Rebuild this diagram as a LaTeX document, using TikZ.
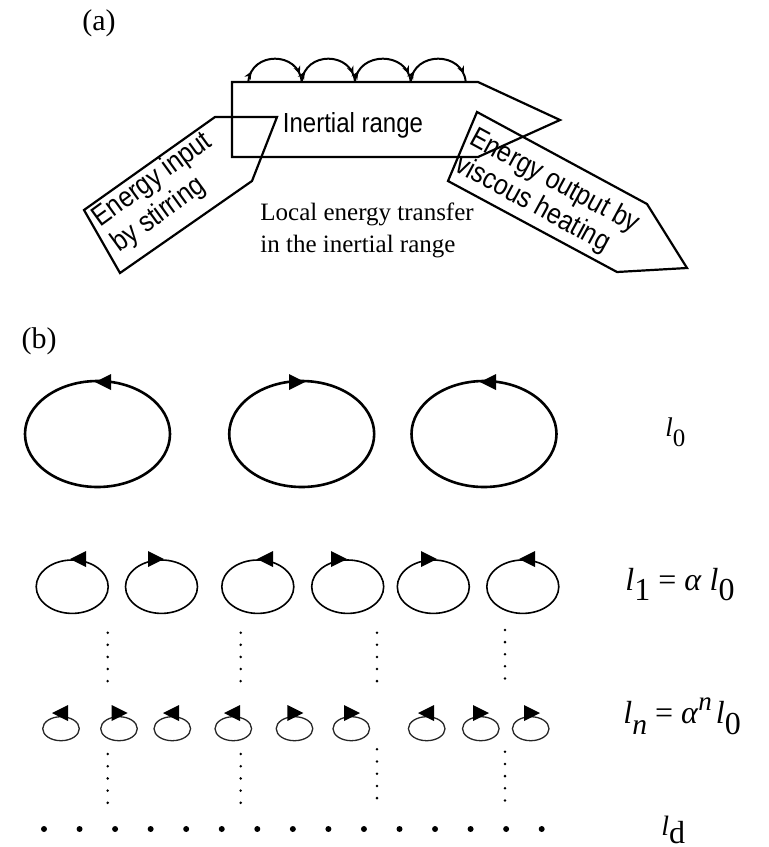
\documentclass[tikz,border=0pt]{standalone}
\usepackage{fontspec}
\setmainfont{Liberation Serif}
\newfontfamily\sansf[FakeStretch=0.87]{Liberation Sans}
\usetikzlibrary{arrows.meta,decorations.markings}
\newcommand\eddyL[2]{\fill (#1,#2) -- ++(16,-8) -- ++(0,16) -- cycle;}
\newcommand\eddyR[2]{\fill (#1,#2) -- ++(-16,-8) -- ++(0,16) -- cycle;}
\begin{document}
\begin{tikzpicture}[x=0.5pt,y=-0.5pt,
  shapeline/.style={line width=1.1pt,line join=miter},
  hop/.style={line width=1pt,postaction={decorate},
    decoration={markings,
      mark=at position 0.14 with {\arrow{Stealth[length=4pt,width=3.5pt]}},
      mark=at position 0.9 with {\arrow{Stealth[length=4pt,width=3.5pt]}}}},
  eddyA/.style={line width=1.3pt},
  eddyB/.style={line width=0.8pt},
  eddyC/.style={line width=0.65pt,draw=black!85},
  sanstext/.style={font=\sansf\fontsize{14.3}{16}\selectfont,inner sep=0pt},
  sertext/.style={font=\fontsize{12.5}{15}\selectfont,inner sep=0pt},
  paneltext/.style={font=\fontsize{15}{18}\selectfont,inner sep=0pt,anchor=base},
  scaletext/.style={font=\fontsize{16}{19}\selectfont,inner sep=0pt,anchor=base west}
]
\useasboundingbox (0,0) rectangle (769,847);

% ---------- panel (a) ----------
\node (pa) [paneltext] at (99,30) {(a)};

\draw[shapeline] (232,82) -- (478,82) -- (560,120) -- (478,157) -- (232,157) -- cycle;
\draw[shapeline] (215,117) -- (277,117) -- (252,181) -- (120,273) -- (84,210) -- cycle;
\draw[shapeline] (477,112) -- (647,204) -- (687,268) -- (617,272) -- (448,181) -- cycle;

\foreach \a/\b in {248.3/301.7,301.7/355,355/410.7,410.7/465.7}
  \draw[hop] (\a,81.7) .. controls (\a+3,51) and (\b-3,51) .. (\b,81.7);

\node (inertial) [sanstext,font=\sansf\fontsize{13.8}{15}\selectfont,anchor=base] at (353,132) {Inertial range};
\node (input) [sanstext,align=left,rotate=36] at (162,193) {Energy input\\by stirring};
\node (output) [sanstext,align=left,rotate=-28.5,font=\sansf\fontsize{14.3}{15.3}\selectfont] at (547,195) {Energy output by\\viscous heating};
\node (local1) [sertext,anchor=base west] at (260,220) {Local energy transfer};
\node (local2) [sertext,anchor=base west] at (260,252) {in the inertial range};

% ---------- panel (b) ----------
\node (pb) [paneltext] at (39,348) {(b)};

\foreach \cx in {97.5,301.7,484}
  \draw[eddyA] (\cx,434) ellipse [x radius=72.5,y radius=53];
\eddyL{95}{382}
\eddyR{305}{382}
\eddyL{480}{382}

\foreach \cx in {72.2,161.5,257.8,347.7,433.3,522.8}
  \draw[eddyB] (\cx,586.7) ellipse [x radius=36,y radius=26.7];
\eddyL{70}{559}
\eddyR{164}{559}
\eddyL{257}{559}
\eddyR{347}{559}
\eddyR{437}{559}
\eddyL{519}{559}

\foreach \cx in {61,119,172.3,233.3,294.5,351.3,426.7,480.8,530.7}
  \draw[eddyC] (\cx,728.7) ellipse [x radius=18.3,y radius=12];
\eddyL{52}{713}
\eddyR{127.7}{713}
\eddyL{163}{713}
\eddyL{224}{713}
\eddyR{303.3}{713}
\eddyR{360}{713}
\eddyL{418}{713}
\eddyR{489}{713}
\eddyR{540}{713}

\foreach \x/\ya/\yb in {107.7/632.7/754,240.7/632.7/754,377/632.7/749.3,505/630/751.7}
  \foreach \k in {0,...,4} {
    \fill (\x,\ya+12.1*\k) circle [radius=1.4];
    \fill (\x,\yb+12.2*\k) circle [radius=1.4];
  }

\foreach \k in {0,...,14}
  \fill (44+35.55*\k,829) circle [radius=3];

\node (l0) [scaletext,font=\fontsize{13.5}{16}\selectfont] at (665,436.7)
  {\textit{l}\raisebox{-5pt}{\fontsize{12.5}{15}\selectfont 0}};
\node (l1) [scaletext] at (625,590)
  {\textit{l}\raisebox{-5pt}{1} = \textit{α} \textit{l}\raisebox{-5pt}{0}};
\node (ln) [scaletext] at (623,723.3)
  {\textit{l}\raisebox{-5.8pt}{\fontsize{14.8}{17}\selectfont\textit{n}} = \textit{α}\raisebox{6.5pt}{\fontsize{13.5}{16}\selectfont\textit{n}}\hspace{2pt}\textit{l}\raisebox{-5.8pt}{0}};
\node (ld) [scaletext,font=\fontsize{14}{17}\selectfont] at (661,835)
  {\textit{l}\raisebox{-4pt}{\fontsize{16}{19}\selectfont d}};
\end{tikzpicture}
\end{document}
